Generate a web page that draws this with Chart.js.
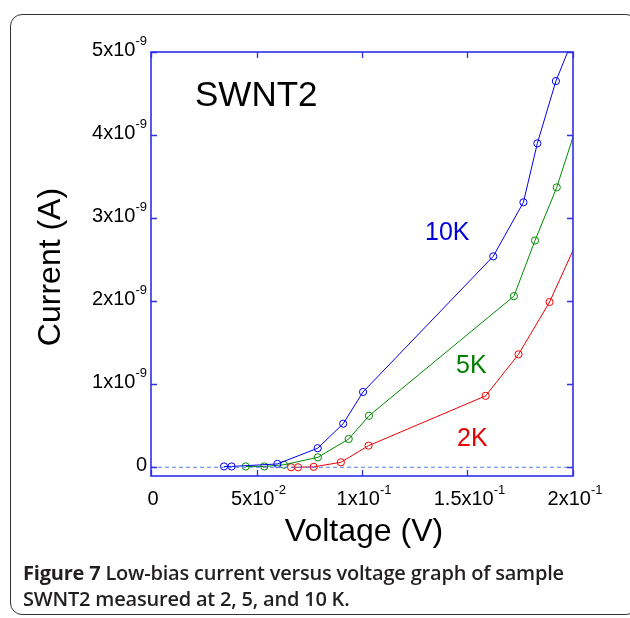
<!DOCTYPE html>
<html>
<head>
<meta charset="utf-8">
<script src="https://cdn.jsdelivr.net/npm/chart.js@4.4.1/dist/chart.umd.min.js"></script>
<style>
  html, body { margin: 0; padding: 0; background: #fff; }
  #wrap { position: relative; width: 630px; height: 618px; overflow: hidden; }
  #myChart { position: absolute; left: 0; top: 0; }
  #box {
    position: absolute; left: 10px; top: 14px; width: 628px; height: 601px;
    border: 1.5px solid #333; border-radius: 12px; box-sizing: border-box;
  }
  #caption {
    position: absolute; left: 23px; top: 560px; width: 605px; white-space: nowrap;
    font-family: "Open Sans", sans-serif; font-weight: 600; font-size: 20px;
    line-height: 26px; color: #231f20; letter-spacing: -0.2px;
  }
  #caption b { font-weight: 700; }
</style>
</head>
<body>
<div id="wrap">
  <canvas id="myChart" width="630" height="618"></canvas>
  <div id="box"></div>
  <div id="caption"><b>Figure 7</b> Low-bias current versus voltage graph of sample<br>SWNT2 measured at 2, 5, and 10 K.</div>
</div>
<script>

// voltage (V) and current (A)
var volt10K = [0.0346, 0.0382, 0.0599, 0.0790, 0.0911, 0.1005, 0.1622, 0.1765, 0.1831, 0.1919, 0.2000];
var curr10K = [0.01e-9, 0.01e-9, 0.04e-9, 0.23e-9, 0.525e-9, 0.907e-9, 2.54e-9, 3.19e-9, 3.90e-9, 4.65e-9, 5.16e-9];

var volt5K = [0.0449, 0.0537, 0.0630, 0.0791, 0.0937, 0.1033, 0.1720, 0.1820, 0.1923, 0.2050];
var curr5K = [0.01e-9, 0.01e-9, 0.03e-9, 0.12e-9, 0.34e-9, 0.62e-9, 2.06e-9, 2.73e-9, 3.37e-9, 4.37e-9];

var volt2K = [0.0664, 0.0697, 0.0771, 0.0900, 0.1031, 0.1586, 0.1742, 0.1889, 0.2050];
var curr2K = [0.0, 0.0, 0.005e-9, 0.06e-9, 0.26e-9, 0.86e-9, 1.36e-9, 1.99e-9, 2.89e-9];

var zeroLine = [0, 0.2];

var xTicks = [0, 0.05, 0.1, 0.15, 0.2];
var xTickLabels = [['0', ''], ['5x10', '-2'], ['1x10', '-1'], ['1.5x10', '-1'], ['2x10', '-1']];
var yTicks = [0, 1e-9, 2e-9, 3e-9, 4e-9, 5e-9];
var yTickLabels = [['0', ''], ['1x10', '-9'], ['2x10', '-9'], ['3x10', '-9'], ['4x10', '-9'], ['5x10', '-9']];

var BLUE = '#0000f0';
var GREEN = '#008a00';
var RED = '#f00000';
var AXIS = '#2f2fe8';
var FONT = '"Liberation Sans", Arial, Helvetica, sans-serif';

function toPoints(xs, ys) {
    var pts = [];
    for (var i = 0; i < xs.length; i++) {
        pts.push({x: xs[i], y: ys[i]});
    }
    return pts;
}

function series(label, xs, ys, color) {
    return {
        label: label,
        data: toPoints(xs, ys),
        borderColor: color,
        backgroundColor: 'rgba(0,0,0,0)',
        borderWidth: 1,
        pointRadius: 3.6,
        pointBorderWidth: 1,
        pointBorderColor: color,
        pointBackgroundColor: 'rgba(0,0,0,0)',
        tension: 0
    };
}

// mantissa + superscript exponent
function drawSci(ctx, mant, exp, x, y, align) {
    ctx.font = '20px ' + FONT;
    var w1 = ctx.measureText(mant).width;
    ctx.font = '13px ' + FONT;
    var w2 = exp ? ctx.measureText(exp).width : 0;
    var total = w1 + w2;
    var start = x;
    if (align === 'right') start = x - total;
    if (align === 'center') start = x - total / 2;
    ctx.textAlign = 'left';
    ctx.textBaseline = 'alphabetic';
    ctx.fillStyle = '#000';
    ctx.font = '20px ' + FONT;
    ctx.fillText(mant, start, y);
    if (exp) {
        ctx.font = '13px ' + FONT;
        ctx.fillText(exp, start + w1, y - 11);
    }
}

var framePlugin = {
    id: 'framePlugin',
    afterDatasetsDraw: function(chart) {
        var ctx = chart.ctx;
        var a = chart.chartArea;
        var xs = chart.scales.x, ys = chart.scales.y;
        ctx.save();
        ctx.strokeStyle = AXIS;
        ctx.lineWidth = 1.6;
        ctx.strokeRect(a.left, a.top, a.right - a.left, a.bottom - a.top);
        ctx.lineWidth = 1.3;
        ctx.beginPath();
        xTicks.forEach(function(v) {
            var px = Math.round(xs.getPixelForValue(v)) + 0.5;
            ctx.moveTo(px, a.bottom); ctx.lineTo(px, a.bottom - 6);
            ctx.moveTo(px, a.top); ctx.lineTo(px, a.top + 6);
        });
        yTicks.forEach(function(v) {
            var py = Math.round(ys.getPixelForValue(v)) + 0.5;
            ctx.moveTo(a.left, py); ctx.lineTo(a.left + 6, py);
            ctx.moveTo(a.right, py); ctx.lineTo(a.right - 6, py);
        });
        ctx.stroke();

        xTicks.forEach(function(v, i) {
            drawSci(ctx, xTickLabels[i][0], xTickLabels[i][1], xs.getPixelForValue(v) + 2, 505, 'center');
        });
        yTicks.forEach(function(v, i) {
            drawSci(ctx, yTickLabels[i][0], yTickLabels[i][1], 147, ys.getPixelForValue(v) + 4, 'right');
        });

        // axis titles
        ctx.fillStyle = '#000';
        ctx.font = '32px ' + FONT;
        ctx.textAlign = 'center';
        ctx.textBaseline = 'alphabetic';
        ctx.fillText('Voltage (V)', (a.left + a.right) / 2 + 2, 541);
        ctx.save();
        ctx.translate(60, (a.top + a.bottom) / 2 + 3);
        ctx.rotate(-Math.PI / 2);
        ctx.fillText('Current (A)', 0, 0);
        ctx.restore();

        // in-plot labels
        ctx.textAlign = 'left';
        ctx.font = '35px ' + FONT;
        ctx.fillStyle = '#000';
        ctx.fillText('SWNT2', 195, 106);
        ctx.font = '25px ' + FONT;
        ctx.fillStyle = '#0000d8';
        ctx.fillText('10K', 425, 240);
        ctx.fillStyle = '#008000';
        ctx.fillText('5K', 456, 373);
        ctx.fillStyle = '#e80000';
        ctx.fillText('2K', 457, 446);
        ctx.restore();
    }
};

var ctx = document.getElementById('myChart').getContext('2d');
var myChart = new Chart(ctx, {
    type: 'line',
    data: {
        datasets: [
            {
                label: 'zero',
                data: toPoints(zeroLine, [0, 0]),
                borderColor: '#5a78f0',
                borderWidth: 1,
                borderDash: [4, 3],
                pointRadius: 0,
                tension: 0
            },
            series('10K', volt10K, curr10K, BLUE),
            series('5K', volt5K, curr5K, GREEN),
            series('2K', volt2K, curr2K, RED)
        ]
    },
    options: {
        responsive: false,
        animation: false,
        devicePixelRatio: 1,
        layout: { padding: { left: 151, right: 57, top: 52, bottom: 142 } },
        plugins: { legend: { display: false }, tooltip: { enabled: false } },
        scales: {
            x: { type: 'linear', min: 0, max: 0.2, display: false },
            y: { type: 'linear', min: -0.105e-9, max: 5e-9, display: false }
        }
    },
    plugins: [framePlugin]
});

</script>
</body>
</html>
